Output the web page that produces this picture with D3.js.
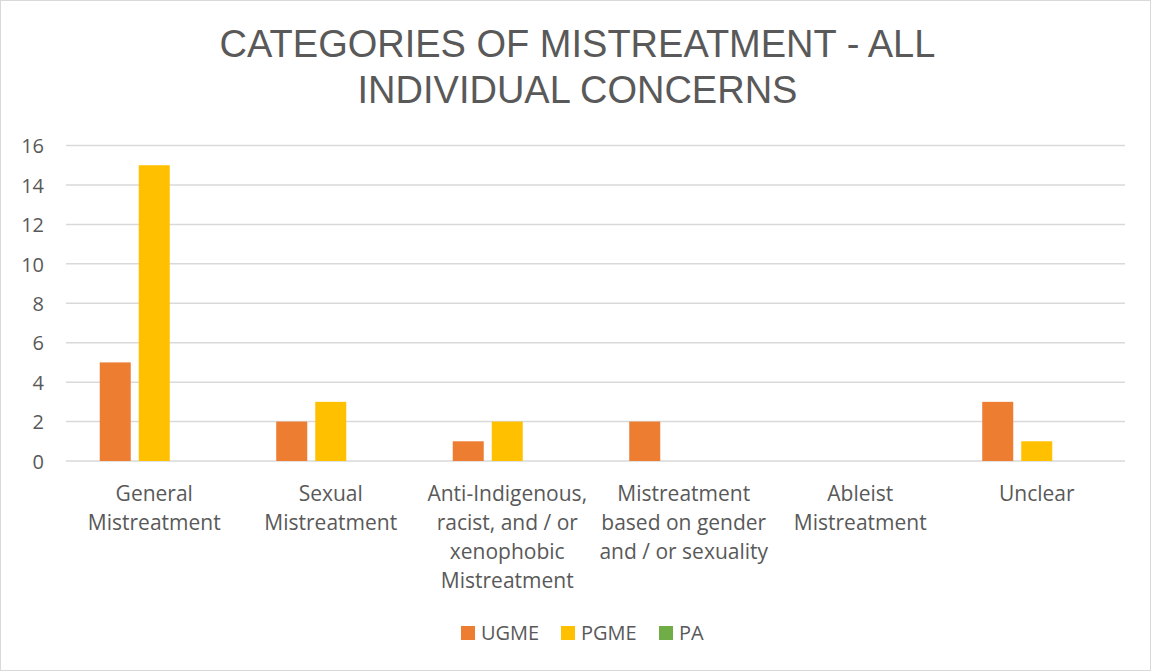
<!DOCTYPE html>
<html>
<head>
<meta charset="utf-8">
<script src="https://cdn.jsdelivr.net/npm/d3@7"></script>
<style>
  html, body { margin: 0; padding: 0; background: #fff; }
  svg { display: block; }
</style>
</head>
<body>
<svg id="chart" width="1151" height="671"></svg>
<script>
const titleLines = ["CATEGORIES OF MISTREATMENT - ALL", "INDIVIDUAL CONCERNS"];
const categories = [
  "General\nMistreatment",
  "Sexual\nMistreatment",
  "Anti-Indigenous,\nracist, and / or\nxenophobic\nMistreatment",
  "Mistreatment\nbased on gender\nand / or sexuality",
  "Ableist\nMistreatment",
  "Unclear"
];
const seriesNames = ["UGME", "PGME", "PA"];
const ugme = [5, 2, 1, 2, 0, 3];
const pgme = [15, 3, 2, 0, 0, 1];
const pa = [0, 0, 0, 0, 0, 0];
const yTicks = [0, 2, 4, 6, 8, 10, 12, 14, 16];
const colors = ["#ED7D31", "#FFC000", "#70AD47"];

const seriesValues = [ugme, pgme, pa];
const W = 1151, H = 671;
const plotLeft = 66, plotRight = 1125, plotTop = 145.5, plotBottom = 461;
const textColor = "#595959";
const font = "'Open Sans', sans-serif";

const svg = d3.select("#chart");

// outer border
svg.append("rect").attr("x", 0.5).attr("y", 0.5).attr("width", W - 1).attr("height", H - 1)
  .attr("fill", "#fff").attr("stroke", "#d9d9d9").attr("stroke-width", 1);

// title
svg.append("g").selectAll("text").data(titleLines).join("text")
  .attr("x", W / 2 + 2).attr("y", (d, i) => 57 + i * 46)
  .attr("text-anchor", "middle")
  .attr("font-family", "'Liberation Sans', sans-serif")
  .attr("font-size", 38)
  .attr("fill", textColor)
  .text(d => d);

const x0 = d3.scaleBand().domain(categories).range([plotLeft, plotRight]).padding(0);
const x1 = d3.scaleBand().domain(seriesNames).range([0, x0.bandwidth()])
  .paddingInner(0.205).paddingOuter(0.865);
const y = d3.scaleLinear().domain([0, 16]).range([plotBottom, plotTop]);

// gridlines
svg.append("g").selectAll("line").data(yTicks).join("line")
  .attr("x1", plotLeft).attr("x2", plotRight)
  .attr("y1", d => y(d)).attr("y2", d => y(d))
  .attr("stroke", "#d9d9d9").attr("stroke-width", 1.5);

// y axis labels
const yAxis = d3.axisLeft(y).tickValues(yTicks).tickSize(0).tickPadding(0);
const ya = svg.append("g").attr("transform", `translate(${44},0)`).call(yAxis);
ya.select(".domain").remove();
ya.selectAll("text").attr("font-family", font).attr("font-size", 20).attr("fill", textColor)
  .attr("dy", "0.36em");

// bars
const groups = svg.append("g").selectAll("g").data(categories).join("g")
  .attr("transform", d => `translate(${x0(d)},0)`);
groups.selectAll("rect")
  .data((c, ci) => seriesNames.map((s, si) => ({ s, si, v: seriesValues[si][ci] })))
  .join("rect")
  .attr("x", d => x1(d.s))
  .attr("width", x1.bandwidth())
  .attr("y", d => y(d.v))
  .attr("height", d => y(0) - y(d.v))
  .attr("fill", d => colors[d.si]);

// category labels
const cl = svg.append("g").selectAll("text").data(categories).join("text")
  .attr("text-anchor", "middle")
  .attr("font-family", font).attr("font-size", 21).attr("fill", textColor)
  .attr("transform", d => `translate(${x0(d) + x0.bandwidth() / 2},501)`);
cl.selectAll("tspan").data(d => d.split("\n")).join("tspan")
  .attr("x", 0).attr("y", (d, i) => i * 29).text(d => d);

// legend
const legendX = [461, 561, 659];
const lg = svg.append("g").selectAll("g").data(seriesNames).join("g")
  .attr("transform", (d, i) => `translate(${legendX[i]},626)`);
lg.append("rect").attr("width", 14).attr("height", 14).attr("fill", (d, i) => colors[i]);
lg.append("text").attr("x", 20).attr("y", 14)
  .attr("font-family", font).attr("font-size", 20).attr("fill", textColor)
  .text(d => d);
</script>
</body>
</html>
